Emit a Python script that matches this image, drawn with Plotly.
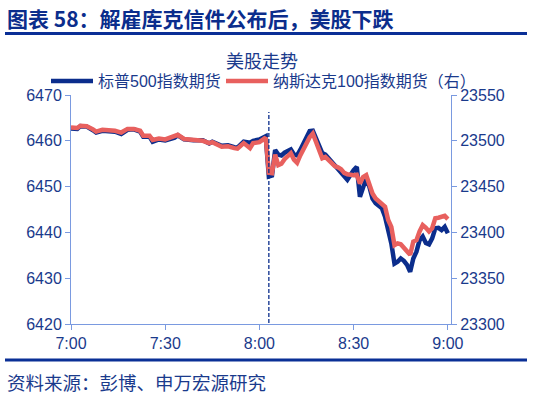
import plotly.graph_objects as go
from datetime import datetime, timedelta

base = datetime(2025, 8, 29, 7, 0)

# minutes after 7:00
spx_min = [0, 2, 3, 5, 7, 8, 10, 12, 14, 16, 18, 20, 22, 23, 25, 26, 28, 30, 33, 34, 36, 39, 42, 44, 45,
           48, 50, 52, 53, 55, 57, 58, 60, 62, 63, 64, 65, 66, 67, 68, 70, 71, 72, 73, 75, 76, 77, 78, 79,
           80, 81, 82, 84, 85, 86, 87, 88, 90, 91, 92, 93, 94, 95, 96, 97, 99, 100, 101, 102, 103, 104,
           105, 106, 107, 108, 109, 110, 111, 112, 113, 114, 115, 116, 117, 118, 119, 120]
spx_val = [6462.7, 6462.6, 6463.2, 6463.1, 6462.3, 6461.8, 6462.2, 6462.1, 6462.0, 6461.5, 6462.4, 6462.5,
           6462.0, 6460.9, 6460.9, 6459.8, 6460.3, 6460.1, 6460.7, 6461.2, 6460.3, 6460.1, 6460.1, 6459.4,
           6459.8, 6458.9, 6459.0, 6458.6, 6458.5, 6459.8, 6459.6, 6460.0, 6460.3, 6461.0, 6452.2, 6452.4,
           6458.0, 6457.0, 6456.8, 6457.4, 6458.1, 6457.0, 6456.8, 6458.0, 6460.5, 6462.1, 6462.2, 6460.6,
           6458.9, 6457.3, 6457.0, 6456.2, 6454.9, 6454.0, 6453.3, 6452.2, 6451.5, 6453.6, 6454.3, 6447.8,
           6449.7, 6451.8, 6450.0, 6447.4, 6446.4, 6445.3, 6443.4, 6440.5, 6437.6, 6433.2, 6433.6, 6434.3,
           6433.8, 6432.9, 6431.4, 6434.3, 6435.8, 6438.3, 6439.1, 6437.7, 6437.4, 6438.7, 6440.9, 6441.0,
           6440.5, 6441.2, 6439.8]

ndx_min = spx_min
ndx_val = [23514.5, 23514, 23516.5, 23516, 23512.5, 23510, 23512, 23511.5, 23511, 23509, 23513, 23513,
           23511, 23505.5, 23505.5, 23501, 23502.5, 23501.5, 23504.5, 23506.5, 23502, 23501, 23500, 23497.5,
           23498.5, 23493.5, 23494, 23492, 23491.5, 23497.5, 23492, 23497.5, 23498.5, 23503.5, 23465, 23464.5,
           23485, 23473.5, 23475, 23480, 23486.5, 23479.5, 23476, 23484, 23497.5, 23504, 23508, 23499,
           23488, 23481, 23482.5, 23479, 23472.5, 23471, 23469, 23465, 23463.5, 23462.5, 23463, 23453.5,
           23460.5, 23462.5, 23452.5, 23442.5, 23437, 23432, 23428, 23413.5, 23406, 23386, 23388, 23387,
           23382.5, 23379, 23375.5, 23390, 23391.5, 23401, 23408, 23405, 23401, 23404.5, 23415.5, 23416,
           23416.5, 23418, 23414.5]

event_min = 63
tick_min = [0, 30, 60, 90, 120]
tick_text = ["7:00", "7:30", "8:00", "8:30", "9:00"]
series_names = ["标普500指数期货", "纳斯达克100指数期货（右）"]

t = lambda m: base + timedelta(minutes=m)
spx_x = [t(m) for m in spx_min]
ndx_x = [t(m) for m in ndx_min]

NAVY = "#0b2d8c"
RED = "#e8605e"
TXT = "#1a3a8c"
AX = "#7a9ae0"
FONT = "Liberation Sans, Arial, Noto Sans CJK SC"
CJK = "Noto Sans CJK SC"

W, H = 539, 395
L, R, T, B = 71, 88, 95, 71
PW, PH = W - L - R, H - T - B
px = lambda x: (x - L) / PW
py = lambda y: (H - B - y) / PH

fig = go.Figure()
fig.add_trace(go.Scatter(x=spx_x, y=spx_val, mode="lines", name=series_names[0],
                         line=dict(color=NAVY, width=4.5), yaxis="y", showlegend=False))
fig.add_trace(go.Scatter(x=ndx_x, y=ndx_val, mode="lines", name=series_names[1],
                         line=dict(color=RED, width=4.5), yaxis="y2", showlegend=False))

fig.add_shape(type="line", xref="x", yref="paper", x0=t(event_min), x1=t(event_min), y0=py(323), y1=py(112),
              line=dict(color=NAVY, width=1.3, dash="4px,2px"))

axis_common = dict(showgrid=False, zeroline=False, showline=True, linecolor=AX, linewidth=1,
                   ticks="outside", ticklen=5, tickcolor=AX, automargin=False,
                   tickfont=dict(size=16, color=TXT, family=FONT))

fig.update_layout(
    width=W, height=H,
    margin=dict(l=L, r=R, t=T, b=B, autoexpand=False),
    paper_bgcolor="white", plot_bgcolor="white",
    font=dict(family=FONT, color=TXT, size=16),
    showlegend=False,
    xaxis=dict(range=[t(0), t(121)], tickvals=[t(m) for m in tick_min], ticktext=tick_text, **axis_common),
    yaxis=dict(range=[6420, 6470], dtick=10, tickformat="d", **axis_common),
    yaxis2=dict(range=[23300, 23550], dtick=50, tickformat="d", overlaying="y", side="right", **axis_common),
)

# title
fig.add_annotation(text="<b>图表 58：解雇库克信件公布后，美股下跌</b>", xref="paper", yref="paper",
                   x=px(5), y=py(18), xanchor="left", yanchor="middle", showarrow=False,
                   font=dict(size=21, color=NAVY, family=CJK))
fig.add_shape(type="line", xref="paper", yref="paper", x0=px(5), x1=px(527),
              y0=py(33.5), y1=py(33.5), line=dict(color="#0a2f96", width=3))

# chart title
fig.add_annotation(text="美股走势", xref="paper", yref="paper", x=px(262), y=py(60),
                   xanchor="center", yanchor="middle", showarrow=False,
                   font=dict(size=18, color=TXT, family=CJK))

# legend (manual)
for (x0, x1, tx, color, name) in [(51, 93, 96, NAVY, series_names[0]), (226, 268, 271, RED, series_names[1])]:
    fig.add_shape(type="line", xref="paper", yref="paper", x0=px(x0), x1=px(x1), y0=py(81), y1=py(81),
                  line=dict(color=color, width=4.5))
    fig.add_annotation(text=name, xref="paper", yref="paper", x=px(tx), y=py(81),
                       xanchor="left", yanchor="middle", showarrow=False,
                       font=dict(size=16, color=TXT, family=FONT))

# bottom rule and source
fig.add_shape(type="line", xref="paper", yref="paper", x0=px(5), x1=px(527),
              y0=py(360), y1=py(360), line=dict(color="#0a2f96", width=3))
fig.add_annotation(text="资料来源：彭博、申万宏源研究", xref="paper", yref="paper",
                   x=px(5), y=py(382), xanchor="left", yanchor="middle", showarrow=False,
                   font=dict(size=18.5, color=TXT, family=CJK))

fig.write_html("out.html", config={"displayModeBar": False},
               post_script="document.body.style.margin='0';document.body.style.overflow='hidden';")
